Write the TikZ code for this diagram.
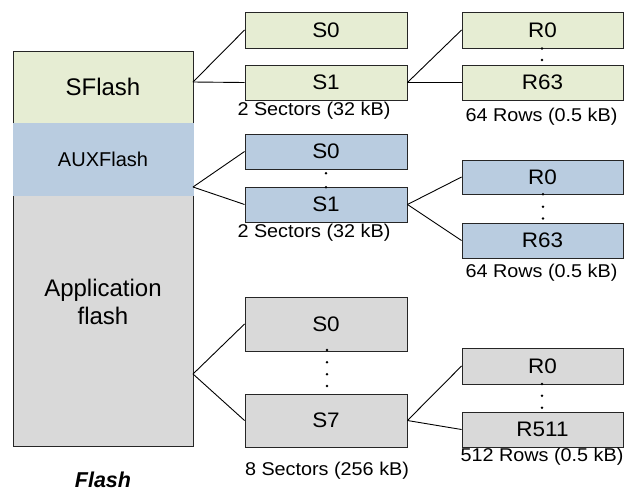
\documentclass[tikz,border=0pt]{standalone}
\usepackage{fontspec}
\setmainfont{Liberation Sans}
\newfontfamily\widesf[FakeStretch=1.07]{Liberation Sans}
\usetikzlibrary{calc}
\definecolor{sgreen}{HTML}{E6EDD3}
\definecolor{auxblue}{HTML}{B9CCE0}
\definecolor{appgray}{HTML}{D9D9D9}
\newcommand{\fs}[1]{\fontsize{#1}{#1}\selectfont}

\begin{document}
\begin{tikzpicture} [x=1pt,y=-1pt, line width=.9pt,
  blk/.style={draw=black!85, minimum width=162pt, inner sep=0pt, font=\widesf\fs{21}},
  sizelab/.style={font=\widesf\fs{18.5}, inner sep=0pt},
  ellip/.style={fill=black, inner sep=0pt, minimum size=2.8pt, circle}]
\useasboundingbox (0,0) rectangle (624,491);
% flash column
\node[draw=black!85, fill=sgreen, minimum width=180pt, minimum height=72pt, font=\fs{24}] (sflash) at (103,87) {SFlash};
\node[draw=black!85, fill=appgray, minimum width=180pt, minimum height=251pt] (app) at (103,320.5) {};
\node[fill=auxblue, minimum width=181pt, minimum height=73pt, font=\fs{20}, inner sep=0pt] (aux) at (103,159) {AUXFlash};
\node[font=\fs{24}, align=center, inner sep=0pt] (apptext) at (103,302) {Application\\[4pt]flash};
\node[font=\bfseries\itshape\fs{21.5}, inner sep=0pt] (flash) at (103,479.5) {Flash};
\coordinate (sfp) at (193,82);
\coordinate (auxp) at (193,187);
\coordinate (appp) at (193,374);

% SFlash
\node[blk, fill=sgreen, minimum height=36pt] (gs0) at (326,30) {S0};
\node[blk, fill=sgreen, minimum height=35pt] (gs1) at (326,82.5) {S1};
\node[blk, fill=sgreen, minimum width=161pt, minimum height=36pt] (gr0) at (542.5,30) {R0};
\node[blk, fill=sgreen, minimum width=161pt, minimum height=35pt] (gr63) at (542.5,82.5) {R63};
\node[sizelab] (gslab) at (314,111) {2 Sectors (32 kB)};
\node[sizelab] (grlab) at (541.5,117) {64 Rows (0.5 kB)};
\draw (sfp) -- (gs0.west);
\draw (sfp) -- (gs1.west);
\draw (gs1.east) -- (gr0.west);
\draw (gs1.east) -- (gr63.west);
\foreach \y in {48.5,60} \node[ellip] at (542,\y) {};

% AUXFlash
\node[blk, fill=auxblue, minimum height=35pt] (bs0) at (326,151.5) {S0};
\node[blk, fill=auxblue, minimum height=35pt] (bs1) at (326,204.5) {S1};
\node[blk, fill=auxblue, minimum width=161pt, minimum height=34pt] (br0) at (542.5,177) {R0};
\node[blk, fill=auxblue, minimum width=161pt, minimum height=35pt] (br63) at (542.5,240.5) {R63};
\node[sizelab] (bslab) at (314,233) {2 Sectors (32 kB)};
\node[sizelab] (brlab) at (541.5,273) {64 Rows (0.5 kB)};
\draw (auxp) -- (bs0.west);
\draw (auxp) -- (bs1.west);
\draw (bs1.east) -- (br0.west);
\draw (bs1.east) -- (br63.west);
\foreach \y in {173.3,187.3} \node[ellip] at (326,\y) {};
\foreach \y in {194.3,206.7,218.5} \node[ellip] at (543,\y) {};

% Application flash
\node[blk, fill=appgray, minimum height=54pt] (as0) at (326,324) {S0};
\node[blk, fill=appgray, minimum height=53pt] (as7) at (326,420.5) {S7};
\node[blk, fill=appgray, minimum width=161pt, minimum height=36pt] (ar0) at (542.5,366) {R0};
\node[blk, fill=appgray, minimum width=161pt, minimum height=35pt] (ar511) at (542.5,429.5) {R511};
\node[sizelab] (aslab) at (327,470.5) {8 Sectors (256 kB)};
\node[sizelab] (arlab) at (542,457) {512 Rows (0.5 kB)};
\draw (appp) -- (as0.west);
\draw (appp) -- (as7.west);
\draw (as7.east) -- (ar0.west);
\draw (as7.east) -- (ar511.west);
\foreach \y in {350,362.3,374.3,386} \node[ellip] at (327,\y) {};
\foreach \y in {384,395.7,407.7} \node[ellip] at (542,\y) {};
\end{tikzpicture}
\end{document}
